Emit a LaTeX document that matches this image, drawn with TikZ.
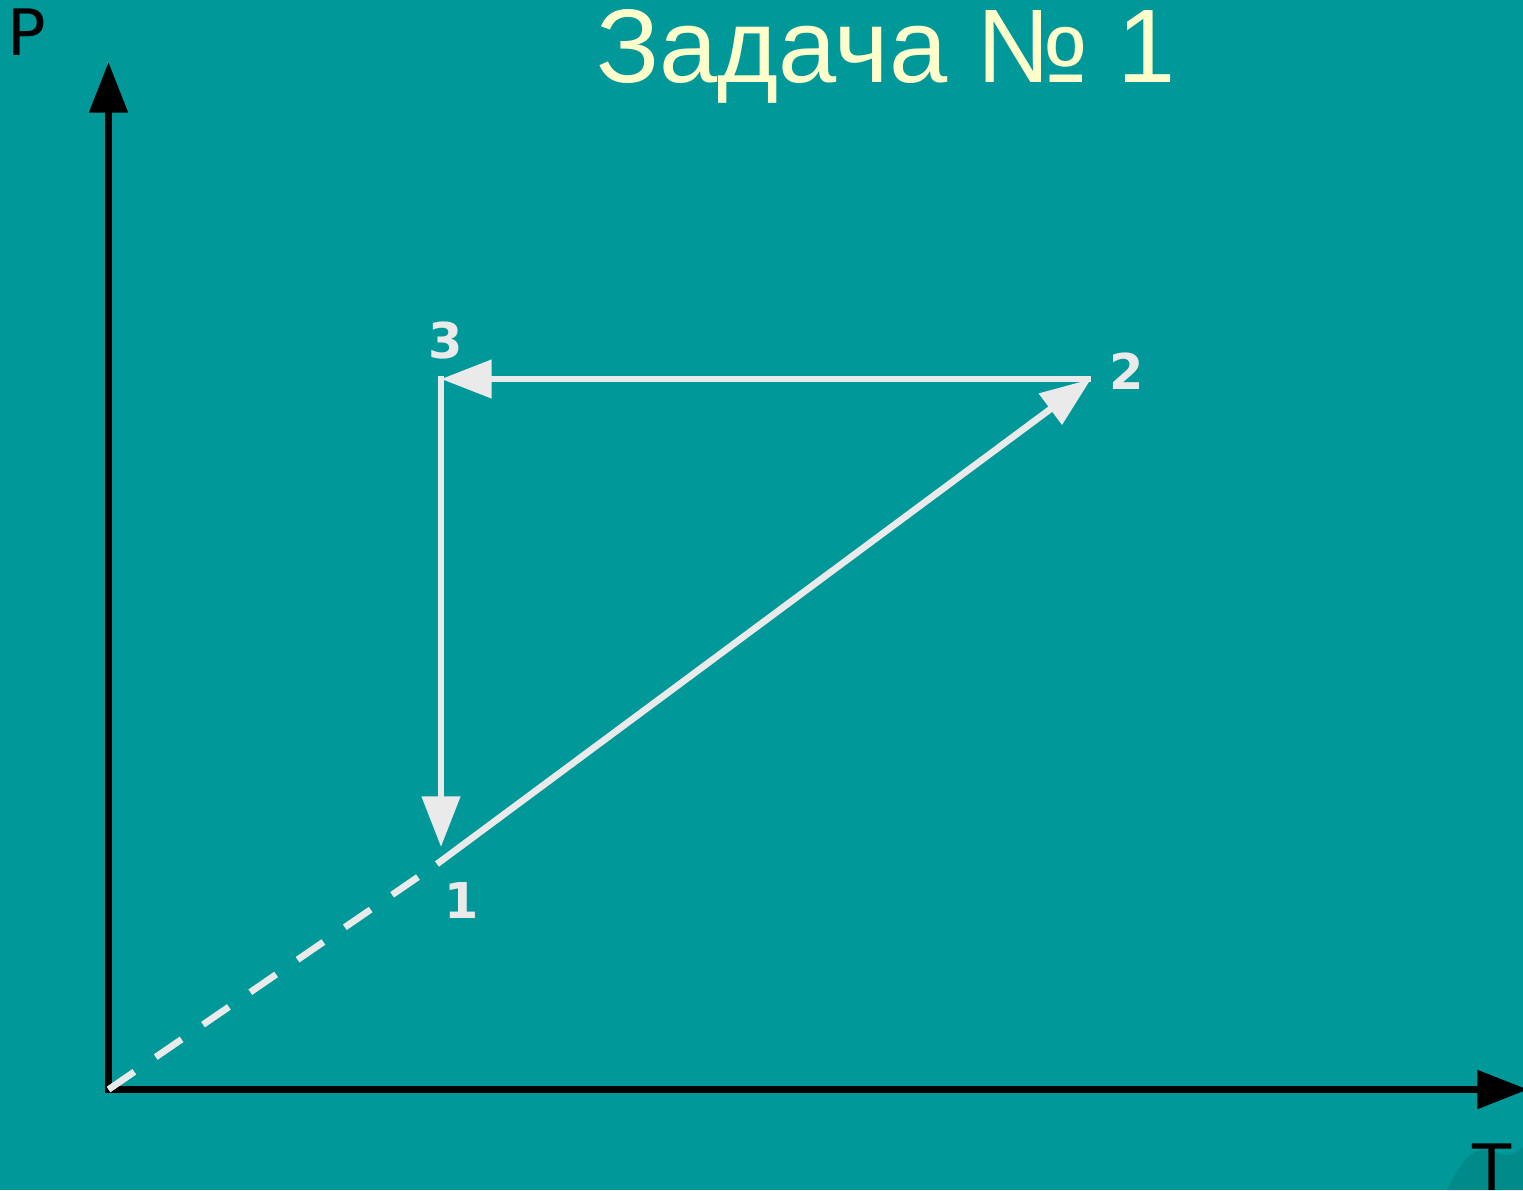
\documentclass[tikz,border=0pt]{standalone}
\usepackage{fontspec}
\setmainfont{Liberation Sans}
\newfontfamily\dvfont{DejaVu Sans}
\usetikzlibrary{arrows.meta}
\definecolor{bgteal}{RGB}{0,152,152}
\definecolor{darkteal}{RGB}{0,138,138}
\definecolor{titlecol}{RGB}{255,255,204}
\definecolor{linegray}{RGB}{234,234,234}
\tikzset{
  axisline/.style={draw=black, line width=5.4pt, -{Triangle[length=38pt,width=28pt]}},
  procline/.style={draw=linegray, line width=5pt, -{Triangle[length=38pt,width=28pt]}},
  extline/.style={draw=linegray, line width=5pt, dash pattern=on 23.5pt off 19.5pt},
  ptlabel/.style={text=linegray, font=\dvfont\bfseries\fontsize{37}{40}\selectfont, inner sep=0pt},
  axlabel/.style={text=black, font=\dvfont\fontsize{48}{54}\selectfont, inner sep=0pt},
  titlelabel/.style={text=titlecol, font=\fontsize{78.5}{94}\selectfont, inner sep=0pt}
}
\begin{document}
\begin{tikzpicture}[x=0.75pt, y=-0.75pt]
\useasboundingbox (0,0) rectangle (1523,1190);
\fill[bgteal] (0,0) rectangle (1523,1190);
\fill[darkteal] (1447,1190) .. controls (1458,1170) and (1464,1155) .. (1480,1150)
  .. controls (1492,1148) and (1500,1156) .. (1508,1155)
  .. controls (1514,1154) and (1518,1150) .. (1523,1148) -- (1523,1190) -- cycle;
% coordinates
\coordinate (O) at (108.5,1089.5);
\coordinate (ytip) at (108.5,62);
\coordinate (xtip) at (1528,1089.5);
\coordinate (p1) at (437,864);
\coordinate (p2) at (1091,379);
\coordinate (p3) at (441,379);
% title and axis labels
\node[titlelabel, anchor=base] (title) at (886,82) {Задача № 1};
\node[axlabel, anchor=base] (plabel) at (27,55) {P};
\node[axlabel, anchor=base] (tlabel) at (1492,1190) {T};
% axes
\draw[axisline, line cap=rect] (O) -- (ytip);
\draw[axisline, line cap=rect] (O) -- (xtip);
% process
\draw[extline] (O) -- (p1);
\draw[procline] (p1) -- (p2);
\draw[procline] (p2) -- (p3);
\draw[procline] ([yshift=2.6pt]p3) -- ([yshift=-468pt*0.75]p3);
% point labels
\node[ptlabel] (l1) at (462,900) {1};
\node[ptlabel] (l2) at (1127,371) {2};
\node[ptlabel] (l3) at (446,341) {3};
\end{tikzpicture}
\end{document}
